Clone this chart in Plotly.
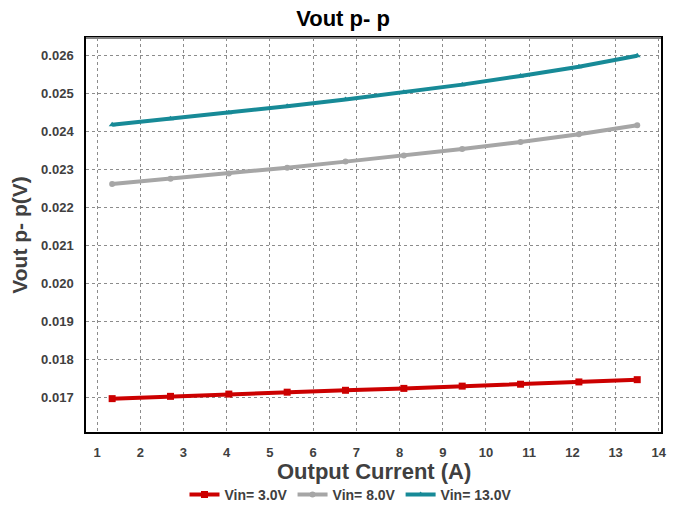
import plotly.graph_objects as go

current = [1.35, 2.7, 4.05, 5.4, 6.75, 8.1, 9.45, 10.8, 12.15, 13.5]
vin3 = [0.01696, 0.01702, 0.01708, 0.01713, 0.01718, 0.01723, 0.01729, 0.01734, 0.01740, 0.01746]
vin8 = [0.02262, 0.02276, 0.02290, 0.02305, 0.02321, 0.02337, 0.02354, 0.02373, 0.02393, 0.02417]
vin13 = [0.02418, 0.02434, 0.02450, 0.02467, 0.02485, 0.02504, 0.02524, 0.02547, 0.02571, 0.02600]
names = ["Vin= 3.0V", "Vin= 8.0V", "Vin= 13.0V"]
xticks = list(range(1, 15))
yticks = [0.017, 0.018, 0.019, 0.020, 0.021, 0.022, 0.023, 0.024, 0.025, 0.026]
x_title = "Output Current (A)"
y_title = "Vout p- p(V)"
chart_title = "Vout p- p"

font = "Liberation Sans, Arial, sans-serif"
fig = go.Figure()
styles = [("#CC0000", "square", 7), ("#A6A6A6", "circle", 6), ("#178A97", "triangle-up", 6)]
for ys, name, (c, sym, sz) in zip([vin3, vin8, vin13], names, styles):
    fig.add_trace(go.Scatter(x=current, y=ys, name=f"<b>{name}</b>", mode="lines+markers",
                             line=dict(color=c, width=4),
                             marker=dict(color=c, symbol=sym, size=sz)))

# page body has an 8px default margin: keep the page within the window
fig.update_layout(
    width=670, height=499,
    margin=dict(l=78, r=17, t=30, b=75, autoexpand=False),
    paper_bgcolor="white", plot_bgcolor="white",
    title=dict(text=f"<b>{chart_title}</b>", x=0.5, xanchor="center", y=0.995, yanchor="top",
               yref="container",
               font=dict(family=font, size=22, color="black")),
    showlegend=True,
    legend=dict(orientation="h", x=0.46, xanchor="center", y=0.024, yanchor="middle",
                yref="container",
                font=dict(family=font, size=14, color="#404040"), itemwidth=30,
                tracegroupgap=0, bgcolor="rgba(0,0,0,0)"),
    xaxis=dict(range=[0.745, 14.05], tickvals=xticks, ticktext=[f"<b>{v}</b>" for v in xticks],
               showgrid=True, gridcolor="#8c8c8c", griddash="dot", gridwidth=1,
               showline=True, linecolor="black", linewidth=1.5, mirror=True,
               ticks="", zeroline=False, automargin=False, ticklabelstandoff=8,
               tickfont=dict(family=font, size=13, color="#404040")),
    yaxis=dict(range=[0.01608, 0.02647], tickvals=yticks,
               ticktext=[f"<b>{v:.3f}</b>" for v in yticks],
               showgrid=True, gridcolor="#8c8c8c", griddash="dot", gridwidth=1,
               showline=True, linecolor="black", linewidth=1.5, mirror=True,
               ticks="", zeroline=False, automargin=False, ticklabelstandoff=8,
               tickfont=dict(family=font, size=13, color="#404040"),
               title=dict(text=f"<b>{y_title}</b>", standoff=25,
                          font=dict(family=font, size=21, color="#404040"))),
    annotations=[dict(text=f"<b>{x_title}</b>", xref="paper", yref="paper",
                      x=0.5, y=-0.1, xanchor="center", yanchor="middle", showarrow=False,
                      font=dict(family=font, size=22, color="#404040"))],
    shapes=[dict(type="line", xref="paper", yref="paper", x0=0, x1=1, y0=1, y1=1,
                 line=dict(color="#808080", width=2))],
)
fig.write_html("out.html")
